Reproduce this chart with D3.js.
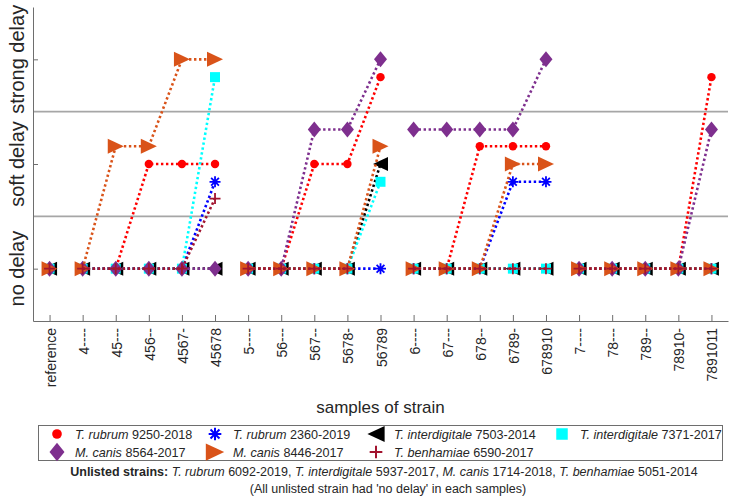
<!DOCTYPE html>
<html lang="en">
<head>
<meta charset="UTF-8">
<title>Growth delay per strain</title>
<script src="https://d3js.org/d3.v7.min.js"></script>
<style>
  body { margin: 0; background: #fff; }
  svg text { font-family: "Liberation Sans", Arial, sans-serif; fill: #262626; }
</style>
</head>
<body>
<div id="chart"></div>
<script>
// categories on the x axis and the group each belongs to (lines only join inside a group)
const categories = ["reference", "4----", "45---", "456--", "4567-", "45678",
  "5----", "56---", "567--", "5678-", "56789",
  "6----", "67---", "678--", "6789-", "678910",
  "7----", "78---", "789--", "78910-", "7891011"];
const groups = [0, 1, 1, 1, 1, 1, 2, 2, 2, 2, 2, 3, 3, 3, 3, 3, 4, 4, 4, 4, 4];

// y level: 1 = no delay, 2 = soft delay, 3 = strong delay (small offsets keep markers apart)
const levelLabels = ["no delay", "soft delay", "strong delay"];

const rubrum9250 = [1, 1, 1, 2, 2, 2, 1, 1, 2, 2, 2.83, 1, 1, 2.17, 2.17, 2.17, 1, 1, 1, 1, 2.83];
const rubrum2360 = [1, 1, 1, 1, 1, 1.83, 1, 1, 1, 1, 1, 1, 1, 1, 1.83, 1.83, 1, 1, 1, 1, 1];
const interdig7503 = [1, 1, 1, 1, 1, 1, 1, 1, 1, 1, 2, 1, 1, 1, 1, 1, 1, 1, 1, 1, 1];
const interdig7371 = [1, 1, 1, 1, 1, 2.83, 1, 1, 1, 1, 1.83, 1, 1, 1, 1, 1, 1, 1, 1, 1, 1];
const canis8564 = [1, 1, 1, 1, 1, 1, 1, 1, 2.33, 2.33, 3, 2.33, 2.33, 2.33, 2.33, 3, 1, 1, 1, 1, 2.33];
const canis8446 = [1, 1, 2.17, 2.17, 3, 3, 1, 1, 1, 1, 2.17, 1, 1, 1, 2, 2, 1, 1, 1, 1, 1];
const benham6590 = [1, 1, 1, 1, 1, 1.67, 1, 1, 1, 1, null, 1, 1, 1, 1, 1, 1, 1, 1, 1, 1];

const seriesGenus = ["T. rubrum", "T. rubrum", "T. interdigitale", "T. interdigitale", "M. canis", "M. canis", "T. benhamiae"];
const seriesCode = ["9250-2018", "2360-2019", "7503-2014", "7371-2017", "8564-2017", "8446-2017", "6590-2017"];
const seriesValues = [rubrum9250, rubrum2360, interdig7503, interdig7371, canis8564, canis8446, benham6590];
const seriesColor = ["#ff0000", "#0000ff", "#000000", "#00ffff", "#7e2f8e", "#d95319", "#a2142f"];
const seriesMarker = ["circle", "asterisk", "triLeft", "square", "diamond", "triRight", "plus"];

const width = 731, height = 499;
const plot = { left: 33, right: 728, top: 7, bottom: 321 };

const svg = d3.select("#chart").append("svg")
  .attr("width", width)
  .attr("height", height);

const x = d3.scaleLinear().domain([-0.5, categories.length - 0.5]).range([plot.left, plot.right]);
const y = d3.scaleLinear().domain([0.5, 3.5]).range([plot.bottom, plot.top]);

// marker path generator, s = scale
function markerPath(type, s) {
  s = s || 1;
  switch (type) {
    case "circle": { const r = 4.2 * s; return `M${-r},0A${r},${r} 0 1,0 ${r},0A${r},${r} 0 1,0 ${-r},0Z`; }
    case "square": { const h = 5 * s; return `M${-h},${-h}H${h}V${h}H${-h}Z`; }
    case "diamond": { const w = 6.5 * s, h = 8 * s; return `M0,${-h}L${w},0L0,${h}L${-w},0Z`; }
    case "triRight": { const w = 8 * s, h = 7.5 * s; return `M${w},0L${-w},${-h}L${-w},${h}Z`; }
    case "triLeft": { const w = 7.5 * s, h = 7 * s; return `M${-w},0L${w},${-h}L${w},${h}Z`; }
    case "plus": { const h = 5.5 * s; return `M${-h},0H${h}M0,${-h}V${h}`; }
    case "asterisk": {
      const h = 5.5 * s, d = h * 0.707;
      return `M${-h},0H${h}M0,${-h}V${h}M${-d},${-d}L${d},${d}M${-d},${d}L${d},${-d}`;
    }
  }
}
const strokeOnly = t => t === "plus" || t === "asterisk";

// horizontal separators between levels
svg.selectAll(".sep").data([1.5, 2.5]).enter().append("line")
  .attr("x1", plot.left).attr("x2", plot.right)
  .attr("y1", d => y(d)).attr("y2", d => y(d))
  .attr("stroke", "#a6a6a6").attr("stroke-width", 1.6);

// axes
const xAxis = svg.append("g").attr("transform", `translate(0,${plot.bottom})`)
  .call(d3.axisBottom(x).tickValues(d3.range(categories.length)).tickSize(-6).tickSizeOuter(0).tickFormat(""));
xAxis.select(".domain").attr("stroke", "#6e6e6e");
xAxis.selectAll(".tick line").attr("stroke", "#6e6e6e");

const yAxis = svg.append("g").attr("transform", `translate(${plot.left},0)`)
  .call(d3.axisLeft(y).tickValues([1, 2, 3]).tickSize(-5).tickSizeOuter(0).tickFormat(""));
yAxis.select(".domain").attr("stroke", "#6e6e6e");
yAxis.selectAll(".tick line").attr("stroke", "#6e6e6e");

// x tick labels, rotated
svg.selectAll(".xlab").data(categories).enter().append("text")
  .attr("transform", (d, i) => `translate(${x(i) + 1},${plot.bottom + 7}) rotate(-90)`)
  .attr("text-anchor", "end")
  .attr("dy", "0.36em")
  .style("font-size", "14px")
  .text(d => d);

// y level labels, rotated
svg.selectAll(".ylab").data(levelLabels).enter().append("text")
  .attr("transform", (d, i) => `translate(17,${y(i + 1)}) rotate(-90)`)
  .attr("text-anchor", "middle")
  .attr("dy", "0.36em")
  .style("font-size", "20px")
  .text(d => d);

// series: dotted lines within groups, then markers
const line = d3.line()
  .x(d => x(d.i))
  .y(d => y(d.v));

seriesValues.forEach((vals, s) => {
  const g = svg.append("g");
  d3.range(5).forEach(grp => {
    const pts = vals.map((v, i) => ({ v, i })).filter(p => groups[p.i] === grp && p.v != null);
    if (pts.length > 1) {
      g.append("path")
        .attr("d", line(pts))
        .attr("fill", "none")
        .attr("stroke", seriesColor[s])
        .attr("stroke-width", 2.6)
        .attr("stroke-dasharray", "2.4,2.6");
    }
  });
  g.selectAll(".mk").data(vals.map((v, i) => ({ v, i })).filter(p => p.v != null)).enter().append("path")
    .attr("transform", d => `translate(${x(d.i)},${y(d.v)})`)
    .attr("d", markerPath(seriesMarker[s]))
    .attr("fill", strokeOnly(seriesMarker[s]) ? "none" : seriesColor[s])
    .attr("stroke", strokeOnly(seriesMarker[s]) ? seriesColor[s] : "none")
    .attr("stroke-width", 1.8);
});

// x axis title
svg.append("text")
  .attr("x", (plot.left + plot.right) / 2)
  .attr("y", 413)
  .attr("text-anchor", "middle")
  .style("font-size", "17px")
  .text("samples of strain");

// legend
const legend = svg.append("g");
legend.append("rect")
  .attr("x", 38.5).attr("y", 425.5).attr("width", 684).attr("height", 35)
  .attr("fill", "#fff").attr("stroke", "#6e6e6e").attr("stroke-width", 1);

const colX = [57, 215, 376, 562];
const rowY = [434, 452];
seriesCode.forEach((code, s) => {
  const col = s < 4 ? s : s - 4;
  const row = s < 4 ? 0 : 1;
  legend.append("path")
    .attr("transform", `translate(${colX[col]},${rowY[row]})`)
    .attr("d", markerPath(seriesMarker[s], 1.15))
    .attr("fill", strokeOnly(seriesMarker[s]) ? "none" : seriesColor[s])
    .attr("stroke", strokeOnly(seriesMarker[s]) ? seriesColor[s] : "none")
    .attr("stroke-width", 2);
  const t = legend.append("text")
    .attr("x", colX[col] + 18)
    .attr("y", rowY[row])
    .attr("dy", "0.36em")
    .style("font-size", "12.6px");
  t.append("tspan").style("font-style", "italic").text(seriesGenus[s]);
  t.append("tspan").text(" " + code);
});

// note about unlisted strains
const note = svg.append("text")
  .attr("x", 384).attr("y", 476)
  .attr("text-anchor", "middle")
  .style("font-size", "12.5px");
const noteParts = [
  ["Unlisted strains:", "bold"], [" ", ""], ["T. rubrum", "italic"], [" 6092-2019, ", ""],
  ["T. interdigitale", "italic"], [" 5937-2017, ", ""], ["M. canis", "italic"], [" 1714-2018, ", ""],
  ["T. benhamiae", "italic"], [" 5051-2014", ""]
];
noteParts.forEach(p => {
  note.append("tspan")
    .style("font-weight", p[1] === "bold" ? "bold" : "normal")
    .style("font-style", p[1] === "italic" ? "italic" : "normal")
    .text(p[0]);
});
svg.append("text")
  .attr("x", 388).attr("y", 493)
  .attr("text-anchor", "middle")
  .style("font-size", "12.5px")
  .text("(All unlisted strain had 'no delay' in each samples)");
</script>
</body>
</html>
